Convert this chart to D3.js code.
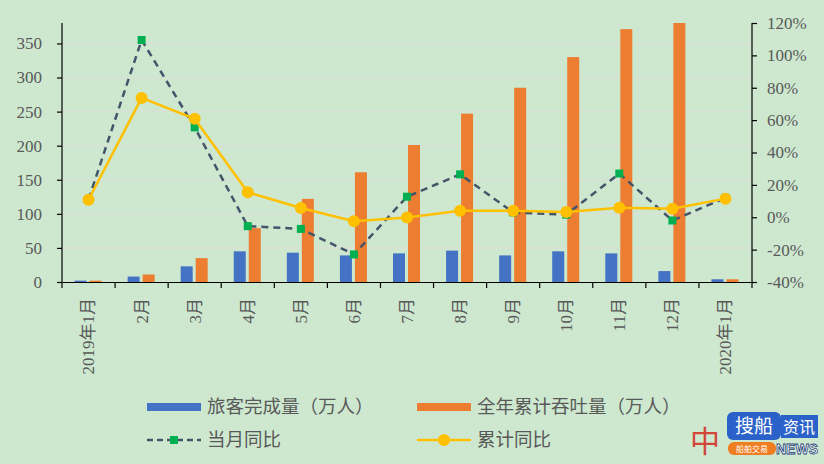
<!DOCTYPE html>
<meta charset="UTF-8">
<head>
    <title>旅客完成量与吞吐量</title>
</head>
<style>
    body { margin: 0; background: #cde8cf; }
    svg { display: block; }
</style>
<body>
<div id="chart"></div>
<script src="https://d3js.org/d3.v7.min.js"></script>
<script>
    // 数据
    var months = ["2019年1月", "2月", "3月", "4月", "5月", "6月", "7月", "8月", "9月", "10月", "11月", "12月", "2020年1月"];
    var passengers = [2, 8, 23, 45, 43, 39, 42, 46, 39, 45, 42, 16, 4];
    var cumulative = [2, 11, 35, 79, 122, 161, 201, 247, 285, 330, 371, 381, 4];
    var monthYoY = [11, 109.5, 55.5, -5.5, -7.2, -23, 12.7, 26.5, 3, 1.6, 27, -2, 12];
    var cumYoY = [10.8, 73.7, 60.8, 15.4, 5.7, -2.5, -0.2, 4, 4, 3.3, 5.9, 5.3, 11.5];
    var leftTicks = [0, 50, 100, 150, 200, 250, 300, 350];
    var rightTicks = [-40, -20, 0, 20, 40, 60, 80, 100, 120];

    var w = 824, h = 464;
    var m = { left: 62, right: 72, top: 23, bottom: 182 };
    var font = "'Liberation Serif', 'Noto Sans CJK SC', serif";

    var svg = d3.select("#chart").append("svg")
        .attr("width", w).attr("height", h);

    var x = d3.scaleBand().domain(months).range([m.left, w - m.right]);
    var yL = d3.scaleLinear().domain([0, 380]).range([h - m.bottom, m.top]);
    var yR = d3.scaleLinear().domain([-40, 120]).range([h - m.bottom, m.top]);

    // 网格线
    svg.append("g").selectAll("line").data(leftTicks.slice(1)).enter().append("line")
        .attr("x1", m.left).attr("x2", w - m.right)
        .attr("y1", d => yL(d)).attr("y2", d => yL(d))
        .attr("stroke", "#dbe0d7").attr("stroke-width", 1.5);

    // 柱子
    var bw = 12;
    svg.append("g").selectAll("rect").data(passengers).enter().append("rect")
        .attr("x", (d, i) => x(months[i]) + x.bandwidth() / 2 - 14)
        .attr("y", d => yL(d)).attr("width", bw)
        .attr("height", d => yL(0) - yL(d))
        .attr("fill", "#4472c4");
    svg.append("g").selectAll("rect").data(cumulative).enter().append("rect")
        .attr("x", (d, i) => x(months[i]) + x.bandwidth() / 2 + 1)
        .attr("y", d => yL(Math.min(d, 380))).attr("width", bw)
        .attr("height", d => yL(0) - yL(Math.min(d, 380)))
        .attr("fill", "#ed7d31");

    var cx = (d, i) => x(months[i]) + x.bandwidth() / 2;

    // 当月同比
    var line = d3.line().x(cx).y(d => yR(d));
    svg.append("path").datum(monthYoY).attr("d", line)
        .attr("fill", "none").attr("stroke", "#44546a")
        .attr("stroke-width", 2.5).attr("stroke-dasharray", "7,5");
    svg.append("g").selectAll("rect").data(monthYoY).enter().append("rect")
        .attr("x", (d, i) => cx(d, i) - 4).attr("y", d => yR(d) - 4)
        .attr("width", 8).attr("height", 8).attr("fill", "#00b050");

    // 累计同比
    svg.append("path").datum(cumYoY).attr("d", line)
        .attr("fill", "none").attr("stroke", "#ffc000").attr("stroke-width", 2.5);
    svg.append("g").selectAll("circle").data(cumYoY).enter().append("circle")
        .attr("cx", cx).attr("cy", d => yR(d)).attr("r", 6).attr("fill", "#ffc000");

    // 坐标轴
    var gL = svg.append("g").attr("transform", `translate(${m.left},0)`)
        .call(d3.axisLeft(yL).tickValues(leftTicks).tickSize(5).tickPadding(15));
    var gR = svg.append("g").attr("transform", `translate(${w - m.right},0)`)
        .call(d3.axisRight(yR).tickValues(rightTicks).tickSize(5).tickPadding(10)
            .tickFormat(d => d + "%"));
    var gX = svg.append("g").attr("transform", `translate(0,${yL(0)})`)
        .call(d3.axisBottom(x).tickSize(0).tickFormat(""));
    [gL, gR, gX].forEach(g => {
        g.select(".domain").attr("stroke", "#000").attr("stroke-width", 1.2);
        g.selectAll(".tick line").attr("stroke", "#000").attr("stroke-width", 1.2);
        g.selectAll("text").attr("font-family", font).attr("font-size", 17).attr("fill", "#595959");
    });
    gL.select(".domain").attr("d", `M0,${yL(0)}V${m.top}`);
    gR.select(".domain").attr("d", `M0,${yL(0)}V${m.top}`);

    // x 轴刻度线（类别边界）
    svg.append("g").selectAll("line").data(d3.range(months.length + 1)).enter().append("line")
        .attr("x1", i => m.left + i * x.step()).attr("x2", i => m.left + i * x.step())
        .attr("y1", yL(0)).attr("y2", yL(0) + 6)
        .attr("stroke", "#000").attr("stroke-width", 1.2);

    // x 轴标签
    svg.append("g").selectAll("text").data(months).enter().append("text")
        .attr("transform", (d, i) => `translate(${cx(d, i)},${yL(0) + 16}) rotate(-90)`)
        .attr("dy", "0.35em").attr("text-anchor", "end")
        .attr("font-family", font).attr("font-size", 17).attr("fill", "#595959")
        .text(d => d);

    // 图例
    var lg = svg.append("g").attr("font-family", "'Noto Sans CJK SC', sans-serif")
        .attr("font-size", 18.5).attr("fill", "#595959");
    lg.append("rect").attr("x", 147).attr("y", 403).attr("width", 54).attr("height", 8).attr("fill", "#4472c4");
    lg.append("text").attr("x", 207).attr("y", 407).attr("dy", "0.35em").text("旅客完成量（万人）");
    lg.append("rect").attr("x", 417).attr("y", 403).attr("width", 54).attr("height", 8).attr("fill", "#ed7d31");
    lg.append("text").attr("x", 477).attr("y", 407).attr("dy", "0.35em").text("全年累计吞吐量（万人）");
    lg.append("line").attr("x1", 147).attr("x2", 201).attr("y1", 440).attr("y2", 440)
        .attr("stroke", "#44546a").attr("stroke-width", 2.5).attr("stroke-dasharray", "6,4");
    lg.append("rect").attr("x", 170).attr("y", 436).attr("width", 8).attr("height", 8).attr("fill", "#00b050");
    lg.append("text").attr("x", 207).attr("y", 440).attr("dy", "0.35em").text("当月同比");
    lg.append("line").attr("x1", 417).attr("x2", 471).attr("y1", 440).attr("y2", 440)
        .attr("stroke", "#ffc000").attr("stroke-width", 2.5);
    lg.append("circle").attr("cx", 444).attr("cy", 440).attr("r", 6).attr("fill", "#ffc000");
    lg.append("text").attr("x", 477).attr("y", 440).attr("dy", "0.35em").text("累计同比");

    // 水印
    var wm = svg.append("g").attr("font-family", "'Noto Sans CJK SC', sans-serif");
    wm.append("text").attr("x", 690).attr("y", 452).attr("font-size", 30).attr("fill", "#d42a1e")
        .attr("opacity", 0.85).text("中");
    wm.append("rect").attr("x", 727).attr("y", 412).attr("width", 54).attr("height", 28).attr("rx", 6)
        .attr("fill", "#2a62c9");
    wm.append("text").attr("x", 754).attr("y", 426).attr("dy", "0.35em").attr("text-anchor", "middle")
        .attr("font-size", 19).attr("fill", "#fff").text("搜船");
    wm.append("rect").attr("x", 781).attr("y", 415).attr("width", 37).attr("height", 23).attr("fill", "#2a62c9");
    wm.append("text").attr("x", 799).attr("y", 427).attr("dy", "0.35em").attr("text-anchor", "middle")
        .attr("font-size", 16).attr("fill", "#fff").text("资讯");
    wm.append("rect").attr("x", 728).attr("y", 442).attr("width", 48).attr("height", 13).attr("rx", 6)
        .attr("fill", "#ef7d22");
    wm.append("text").attr("x", 752).attr("y", 449).attr("dy", "0.35em").attr("text-anchor", "middle")
        .attr("font-size", 8).attr("fill", "#fff").text("船舶交易");
    wm.append("text").attr("x", 797).attr("y", 454).attr("text-anchor", "middle")
        .attr("font-family", "'Liberation Sans', sans-serif").attr("font-weight", "bold")
        .attr("font-size", 14).attr("fill", "#fff").attr("stroke", "#1f3f7a").attr("stroke-width", 0.8)
        .text("NEWS");
</script>
</body>
